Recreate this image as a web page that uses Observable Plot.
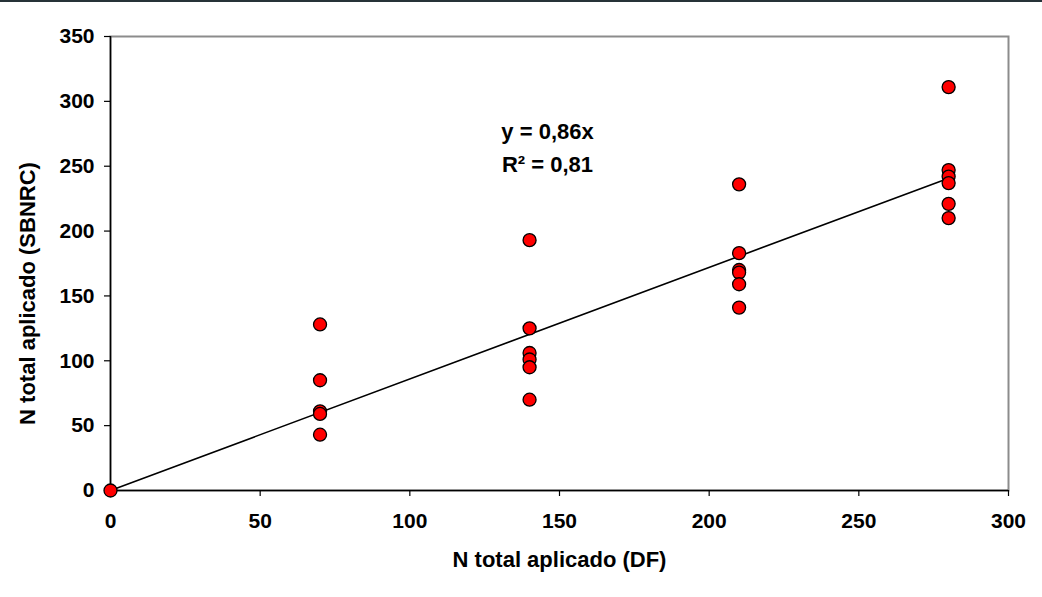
<!DOCTYPE html>
<html>
<head>
<meta charset="utf-8">
<script src="https://cdn.jsdelivr.net/npm/d3@7"></script>
<script src="https://cdn.jsdelivr.net/npm/@observablehq/plot@0.6"></script>
<style>
  body { margin: 0; background: #fff; }
  #topbar { width: 1042px; border-top: 2px solid #263238; }
</style>
</head>
<body>
<div id="topbar"></div>
<div id="chart"></div>
<script>
// Data
const xDF    = [0, 70, 70, 70, 70, 70, 140, 140, 140, 140, 140, 140, 210, 210, 210, 210, 210, 210, 280, 280, 280, 280, 280, 280];
const ySBNRC = [0, 128, 85, 61, 59, 43, 193, 125, 106, 101, 95, 70, 236, 183, 170, 168, 159, 141, 311, 247, 242, 237, 221, 210];

const slope = 0.86;
const fitX = [0, 280];

const xTicks = [0, 50, 100, 150, 200, 250, 300];
const yTicks = [0, 50, 100, 150, 200, 250, 300, 350];

const xTitle = "N total aplicado (DF)";
const yTitle = "N total aplicado (SBNRC)";

const annotText = ["y = 0,86x", "R\u00B2 = 0,81"];
const annotX = [146, 146];
const annotY = [276.5, 251];

const points = xDF.map((x, i) => ({x, y: ySBNRC[i]}));
const fit = fitX.map(x => ({x, y: slope * x}));
const annot = annotText.map((t, i) => ({t, x: annotX[i], y: annotY[i]}));

const font = "'Liberation Sans', Arial, sans-serif";

const chart = Plot.plot({
  width: 1042,
  height: 595,
  marginLeft: 110,
  marginRight: 34,
  marginTop: 34,
  marginBottom: 107,
  style: { fontFamily: font, fontWeight: "bold", fontSize: "21px", color: "#000", background: "#fff", overflow: "visible" },
  x: { domain: [0, 300], ticks: xTicks },
  y: { domain: [0, 350], ticks: yTicks },
  marks: [
    Plot.frame({ stroke: "#8c8c8c", strokeWidth: 2 }),
    Plot.ruleX([0], { stroke: "#000", strokeWidth: 1.5 }),
    Plot.ruleY([0], { stroke: "#000", strokeWidth: 1.5 }),
    Plot.axisX({ ticks: xTicks, tickSize: 6, tickPadding: 17, label: null, fontSize: 21, fontWeight: "bold", fill: "#000", stroke: "#000", strokeWidth: 1.2 }),
    Plot.axisY({ ticks: yTicks, tickSize: 6, tickPadding: 10, label: null, fontSize: 21, fontWeight: "bold", fill: "#000", stroke: "#000", strokeWidth: 1.2 }),
    Plot.text([xTitle], { frameAnchor: "bottom", textAnchor: "middle", lineAnchor: "middle", dy: 69, fontSize: 22, fontWeight: "bold", fill: "#000" }),
    Plot.text([yTitle], { frameAnchor: "left", rotate: -90, textAnchor: "middle", lineAnchor: "middle", dx: -83, dy: 30, fontSize: 22, fontWeight: "bold", fill: "#000" }),
    Plot.line(fit, { x: "x", y: "y", stroke: "#000", strokeWidth: 1.6 }),
    Plot.dot(points, { x: "x", y: "y", r: 6.5, fill: "#ff0000", stroke: "#000", strokeWidth: 1.3 }),
    Plot.text(annot, { x: "x", y: "y", text: "t", fontSize: 22, fontWeight: "bold", fill: "#000", textAnchor: "middle", lineAnchor: "middle" })
  ]
});

document.getElementById("chart").appendChild(chart);
</script>
</body>
</html>
